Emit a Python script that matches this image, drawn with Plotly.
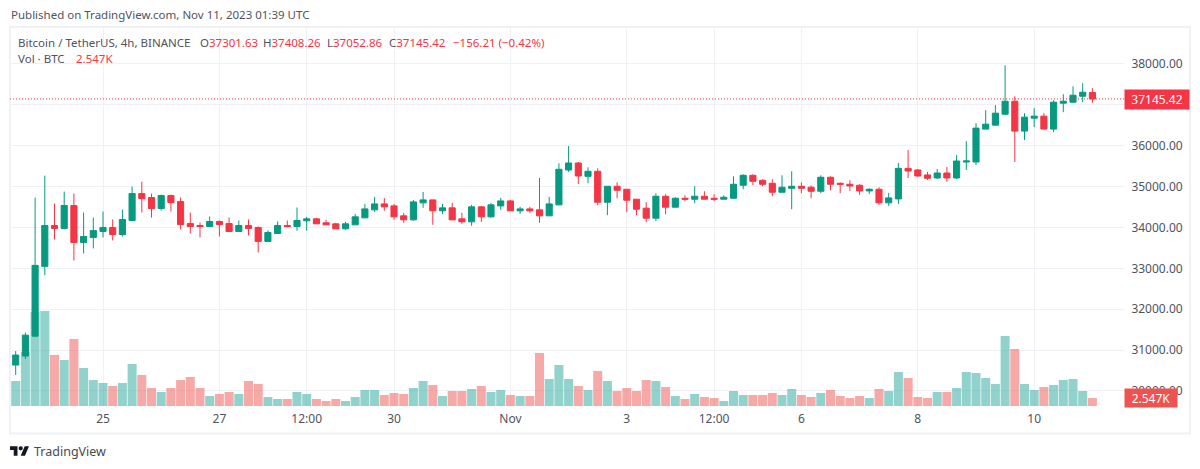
import pandas as pd
import plotly.graph_objects as go

WIDTH, HEIGHT = 1200, 469
LEFT, RIGHT, TOP, BOTTOM = 10, 1124, 27, 406

GREEN = "#089981"
RED = "#F23645"
GRID = "#F0F1F4"
TEXT = "#50535E"
FONT = "Noto Sans"

opens = [
    30634, 30854, 31341, 33049, 34049, 33976, 34537, 33634, 33756, 33902,
    34000, 33829, 34171, 34829, 34732, 34463, 34780, 34634, 34098, 34049,
    34024, 34146, 34098, 33902, 34049, 34000, 33659, 33854, 34049, 34024,
    34163, 34211, 34114, 34089, 33967, 34065, 34236, 34431, 34577, 34528,
    34285, 34187, 34602, 34675, 34407, 34480, 34211, 34138, 34504, 34260,
    34528, 34650, 34407, 34455, 34431, 34285, 34553, 35407, 35577, 35252,
    35374, 34618, 35008, 34935, 34691, 34472, 34228, 34764, 34496, 34715,
    34691, 34764, 34715, 34691, 34715, 35033, 35276, 35154, 35081, 34862,
    34959, 35008, 34984, 34886, 35228, 35081, 35057, 35033, 34894, 34935,
    34602, 34699, 35447, 35407, 35285, 35211, 35333, 35211, 35602, 35602,
    36407, 36504, 36772, 37089, 36358, 36675, 36724, 36407, 37041, 37065,
    37211, 37301.63,
]
highs = [
    30976, 31431, 34732, 35268, 34585, 34878, 34829, 34366, 34244, 34390,
    34195, 34439, 35000, 35122, 34829, 34805, 34805, 34732, 34366, 34122,
    34268, 34171, 34244, 34171, 34195, 34024, 33927, 34146, 34171, 34488,
    34260, 34236, 34187, 34114, 34138, 34333, 34577, 34748, 34724, 34577,
    34358, 34675, 34870, 34675, 34577, 34602, 34358, 34553, 34528, 34602,
    34724, 34675, 34504, 34504, 35211, 34748, 35569, 35992, 35602, 35472,
    35447, 35008, 35106, 34935, 34691, 34618, 34837, 34813, 34740, 34789,
    35008, 34886, 34813, 34789, 35252, 35301, 35301, 35179, 35179, 35276,
    35374, 35106, 35033, 35276, 35252, 35106, 35154, 35057, 34959, 34984,
    34846, 35577, 35894, 35431, 35358, 35431, 35480, 35772, 36114, 36553,
    36870, 36992, 37967, 37211, 36797, 36919, 36797, 37114, 37260, 37455,
    37528, 37408.26,
]
lows = [
    30390, 30781, 31317, 32829, 33707, 33951, 33195, 33366, 33488, 33756,
    33683, 33780, 34171, 34366, 34244, 34415, 34390, 33951, 33854, 33756,
    34024, 33780, 33902, 33902, 33805, 33390, 33659, 33854, 34000, 33919,
    33919, 34089, 34065, 33967, 33943, 34065, 34236, 34382, 34406, 34187,
    34114, 34163, 34480, 34065, 34333, 34187, 34089, 34041, 34138, 34236,
    34431, 34407, 34333, 34358, 34114, 34285, 34545, 35358, 35065, 35081,
    34545, 34301, 34715, 34374, 34301, 34130, 34154, 34325, 34496, 34642,
    34593, 34691, 34642, 34691, 34715, 34935, 35033, 35008, 34764, 34862,
    34447, 34837, 34715, 34837, 34911, 34837, 34894, 34797, 34821, 34553,
    34528, 34577, 35211, 35236, 35163, 35187, 35114, 35187, 35407, 35528,
    36407, 36504, 36748, 35602, 36138, 36455, 36407, 36333, 36821, 37065,
    37065, 37052.86,
]
closes = [
    30878, 31366, 33073, 34049, 33976, 34537, 33634, 33780, 33927, 34000,
    33829, 34195, 34829, 34707, 34463, 34780, 34610, 34073, 34024, 34024,
    34146, 34073, 33902, 34049, 33976, 33659, 33878, 34049, 34024, 34171,
    34211, 34089, 34065, 33967, 34089, 34260, 34455, 34577, 34504, 34260,
    34187, 34626, 34675, 34407, 34480, 34187, 34138, 34504, 34260, 34553,
    34650, 34407, 34455, 34407, 34285, 34577, 35423, 35577, 35260, 35374,
    34618, 35008, 34911, 34667, 34447, 34228, 34764, 34496, 34715, 34691,
    34764, 34691, 34691, 34740, 35057, 35276, 35130, 35057, 34862, 34984,
    35008, 34959, 34886, 35228, 35057, 35057, 35016, 34894, 34935, 34602,
    34724, 35447, 35382, 35260, 35203, 35333, 35211, 35626, 35626, 36431,
    36528, 36797, 37089, 36358, 36699, 36724, 36407, 37065, 37089, 37236,
    37309, 37145.42,
]
volumes = [
    7960, 17190, 29920, 30240, 16240, 14640, 21330, 12100, 8280, 7320,
    6370, 7320, 13370, 9870, 5730, 4460, 5730, 8280, 9230, 5730,
    3180, 3820, 4460, 3820, 7960, 7000, 2870, 2230, 2230, 4460,
    3820, 2230, 1590, 2230, 1590, 2870, 5090, 5090, 3500, 4140,
    3820, 5730, 7960, 6680, 3180, 4780, 4780, 5410, 6370, 4460,
    5090, 3500, 3180, 3180, 16870, 8600, 13050, 8600, 6370, 5090,
    11140, 7960, 4780, 5730, 4780, 8280, 7960, 6050, 3180, 2230,
    3820, 2870, 2550, 1590, 4780, 3500, 3500, 3500, 4140, 3500,
    5410, 3500, 2870, 4140, 5090, 3180, 2550, 3180, 2550, 5410,
    4780, 10820, 8910, 2870, 2550, 4460, 4460, 5730, 10820, 10510,
    8910, 7000, 22280, 18140, 7000, 5090, 6050, 6680, 8280, 8600,
    4780, 2547,
]
times = pd.date_range("2023-10-23 12:00", periods=len(closes), freq="4h")

price_ticks = [38000, 37000, 36000, 35000, 34000, 33000, 32000, 31000, 30000]
time_ticks = [
    "2023-10-25", "2023-10-27", "2023-10-28 12:00", "2023-10-30", "2023-11-01",
    "2023-11-03", "2023-11-04 12:00", "2023-11-06", "2023-11-08", "2023-11-10",
]
time_labels = ["25", "27", "12:00", "30", "Nov", "3", "12:00", "6", "8", "10"]

legend_parts = [
    (17, "Bitcoin / TetherUS, 4h, BINANCE"),
    (199, f'O<span style="color:{RED}">37301.63</span>'),
    (262, f'H<span style="color:{RED}">37408.26</span>'),
    (326, f'L<span style="color:{RED}">37052.86</span>'),
    (388, f'C<span style="color:{RED}">37145.42</span>'),
    (452, f'<span style="color:{RED}">−156.21 (−0.42%)</span>'),
]


def px(x):
    return (x - LEFT) / (RIGHT - LEFT)


def py(y):
    return (BOTTOM - y) / (BOTTOM - TOP)


def label(x, y, text, size=11.5, color=TEXT, **kw):
    return dict(
        x=px(x), y=py(y), xref="paper", yref="paper", text=text, showarrow=False,
        xanchor="left", yanchor="middle", font=dict(family=FONT, size=size, color=color),
        borderpad=0, **kw,
    )


def logo_path(x0, y0, s):
    pts = [
        [(14, 22), (7, 22), (7, 11), (0, 11), (0, 4), (14, 4)],
        [(28, 22), (20, 22), (27.5, 4), (35.5, 4)],
    ]
    d = ""
    for poly in pts:
        coords = [f"{px(x0 + a * s)} {py(y0 + b * s)}" for a, b in poly]
        d += "M" + " L".join(coords) + " Z "
    return d


vol_colors = [
    "rgba(38,166,154,0.5)" if c >= o else "rgba(239,83,80,0.5)"
    for o, c in zip(opens, closes)
]

fig = go.Figure()
fig.add_trace(go.Bar(
    x=times, y=volumes, marker=dict(color=vol_colors, line_width=0),
    yaxis="y", showlegend=False,
))
fig.add_trace(go.Candlestick(
    x=times, open=opens, high=highs, low=lows, close=closes, yaxis="y2",
    increasing=dict(line=dict(color=GREEN, width=1), fillcolor=GREEN),
    decreasing=dict(line=dict(color=RED, width=1), fillcolor=RED),
    whiskerwidth=0, showlegend=False,
))

hours = pd.Timedelta(hours=4)
x_range = [times[0] - hours * 5.7 / 9.7, times[0] + hours * (RIGHT - 15.7) / 9.7]

annotations = [label(10, 14, "Published on TradingView.com, Nov 11, 2023 01:39 UTC")]
annotations += [label(x, 42, t) for x, t in legend_parts]
annotations += [
    label(17, 59, "Vol · BTC"),
    label(75, 59, "2.547K", color=RED),
    label(33, 451, "TradingView", size=12.5, color="#4A4A4A"),
    dict(
        x=px(RIGHT), y=py(99.5), xref="paper", yref="paper", text="37145.42", showarrow=False,
        xanchor="left", yanchor="middle", width=62, height=17, align="center", bgcolor=RED,
        font=dict(family=FONT, size=12, color="#FFFFFF"),
    ),
    dict(
        x=px(RIGHT), y=py(398), xref="paper", yref="paper", text="2.547K", showarrow=False,
        xanchor="left", yanchor="middle", width=50, height=16, align="center", bgcolor="#EF5350",
        font=dict(family=FONT, size=12, color="#FFFFFF"),
    ),
]

shapes = [
    dict(
        type="rect", xref="paper", yref="paper", x0=px(10), x1=px(1190), y0=py(27), y1=py(433.5),
        line=dict(color=GRID, width=2), layer="below",
    ),
    dict(
        type="line", xref="paper", yref="y2", x0=0, x1=1, y0=closes[-1], y1=closes[-1],
        line=dict(color=RED, width=1, dash="1px,2px"),
    ),
    dict(
        type="path", xref="paper", yref="paper", path=logo_path(10, 444, 0.535),
        fillcolor="#131722", line_width=0,
    ),
    dict(
        type="circle", xref="paper", yref="paper", fillcolor="#131722", line_width=0,
        x0=px(10 + 16 * 0.535), x1=px(10 + 24 * 0.535), y0=py(444 + 12 * 0.535), y1=py(444 + 4 * 0.535),
    ),
]

fig.update_layout(
    width=WIDTH, height=HEIGHT,
    margin=dict(l=LEFT, r=WIDTH - RIGHT, t=TOP, b=HEIGHT - BOTTOM, pad=0),
    paper_bgcolor="#FFFFFF", plot_bgcolor="#FFFFFF",
    bargap=0.07, boxgap=0.1, hovermode=False,
    font=dict(family=FONT, size=12, color=TEXT),
    xaxis=dict(
        type="date", range=x_range, rangeslider=dict(visible=False),
        tickmode="array", tickvals=time_ticks, ticktext=time_labels,
        showgrid=True, gridcolor=GRID, gridwidth=1, zeroline=False, showline=False,
        ticks="outside", ticklen=2, tickcolor="rgba(0,0,0,0)",
    ),
    yaxis=dict(
        range=[0, 120600], visible=False, showgrid=False, zeroline=False, fixedrange=True,
    ),
    yaxis2=dict(
        overlaying="y", side="right", range=[29632, 38905],
        tickmode="array", tickvals=price_ticks,
        ticktext=[f"{v:.2f}" for v in price_ticks],
        showgrid=True, gridcolor=GRID, gridwidth=1, zeroline=False, showline=False,
        ticks="outside", ticklen=4, tickcolor="rgba(0,0,0,0)",
    ),
    annotations=annotations,
    shapes=shapes,
)

# the page's default body margin would push the 1200 px figure off the window
fig.write_html(
    "out.html",
    config={"displayModeBar": False},
    post_script="document.body.style.margin = '0';",
)
